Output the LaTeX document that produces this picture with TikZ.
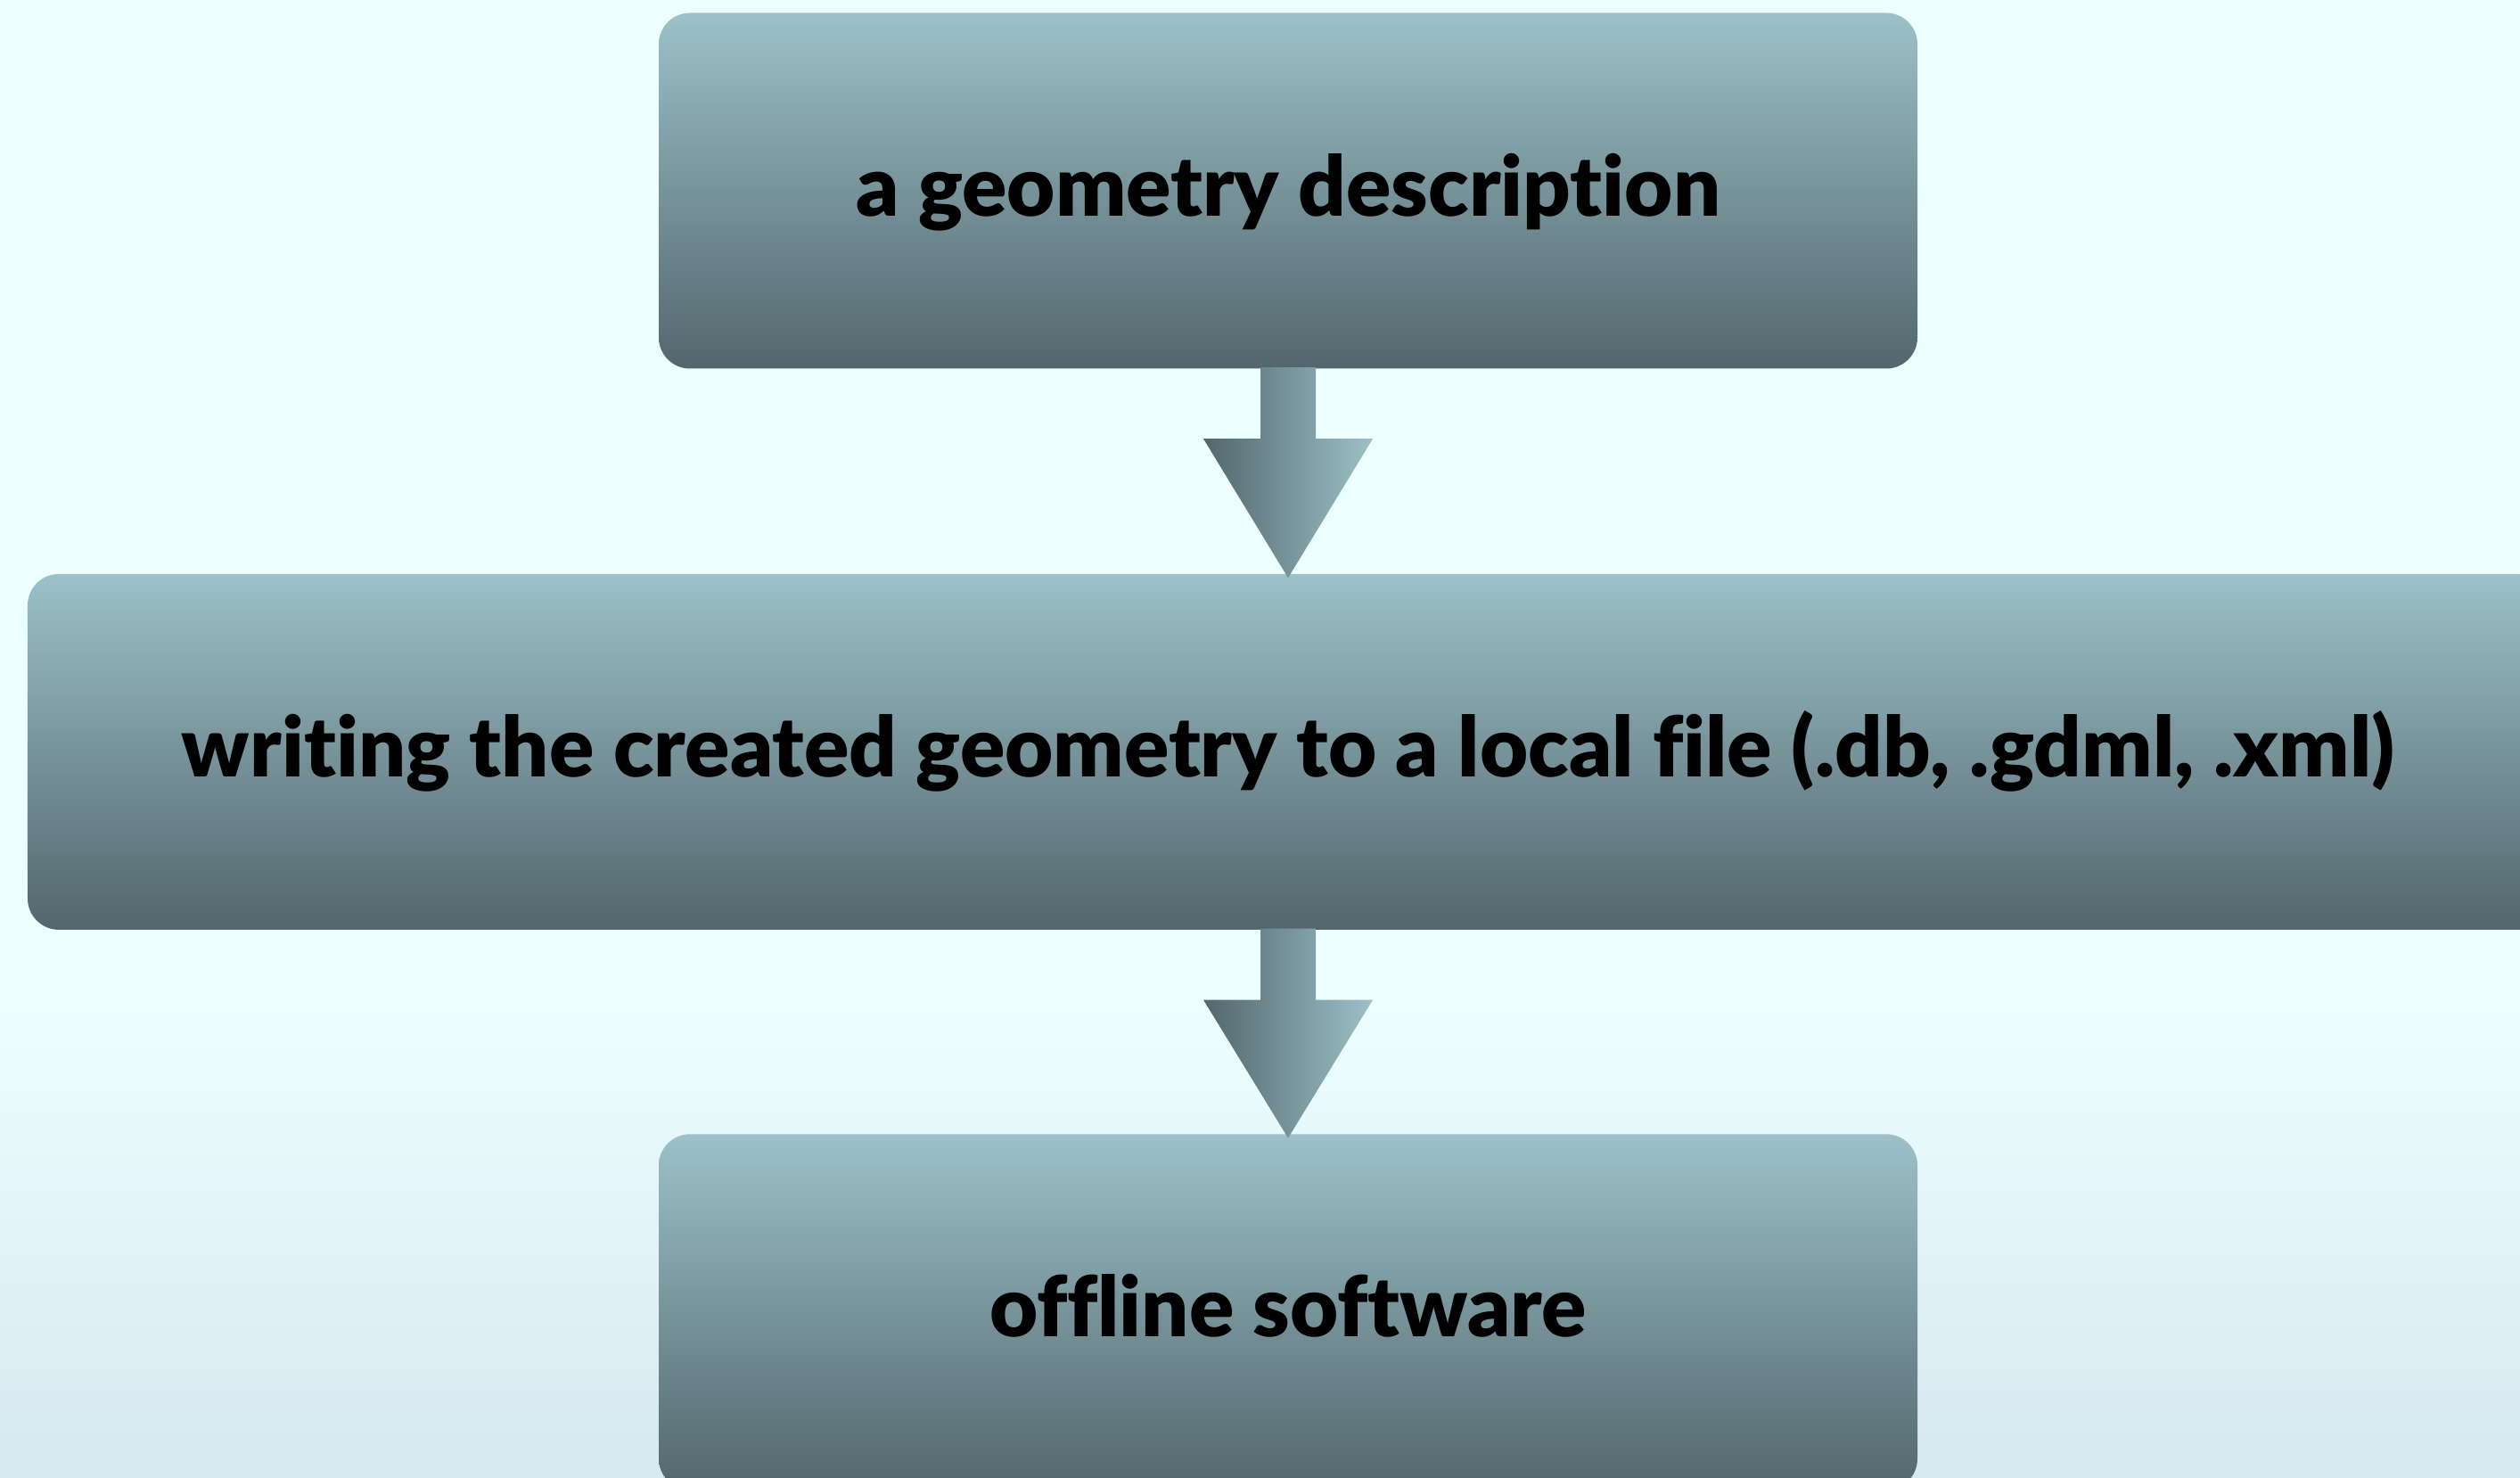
\documentclass[tikz,border=0pt]{standalone}
\usepackage{fontspec}
\setmainfont{Lato}[Ligatures=NoCommon, BoldFont={Lato Black}]
\usetikzlibrary{positioning, calc}
\definecolor{bgcyan}{HTML}{EEFFFF}
\definecolor{bgblue}{HTML}{D6E8F0}
\definecolor{boxtop}{HTML}{9CC1C8}
\definecolor{boxbot}{HTML}{53666D}
\tikzset{
  stepbox/.style={rounded corners=0.35cm, top color=boxtop, bottom color=boxbot,
    minimum height=3.99cm, inner sep=0pt, text height=20pt, text depth=4pt,
    font=\fontsize{26.6}{30}\selectfont\bfseries},
  arrowfill/.style={left color=boxbot, right color=boxtop}
}
\newcommand{\blockarrow}[2]{
  \shade[arrowfill] ($(#1.south)+(-0.31,0.02)$) -- ($(#1.south)+(-0.31,-0.78)$)
    -- ($(#1.south)+(-0.95,-0.78)$) -- ($(#2.north)+(0,-0.05)$)
    -- ($(#1.south)+(0.95,-0.78)$) -- ($(#1.south)+(0.31,-0.78)$)
    -- ($(#1.south)+(0.31,0.02)$) -- cycle;
}

\begin{document}
\begin{tikzpicture}
\useasboundingbox (0,0) rectangle (28.27,-16.58);
\fill[bgcyan] (0,0) rectangle (28.27,-16.58);
\shade[top color=bgcyan, bottom color=bgblue] (0,-11.2) rectangle (28.27,-16.58);

\node[stepbox, minimum width=14.12cm] (geom) at (14.45,-2.14) {a geometry description};
\node[stepbox, minimum width=28.28cm, below=2.29cm of geom] (write)
  {writing the created geometry to a local file (.db, .gdml, .xml)};
\node[stepbox, minimum width=14.12cm, below=2.28cm of write] (offline) {offline software};

\blockarrow{geom}{write}
\blockarrow{write}{offline}
\end{tikzpicture}
\end{document}
